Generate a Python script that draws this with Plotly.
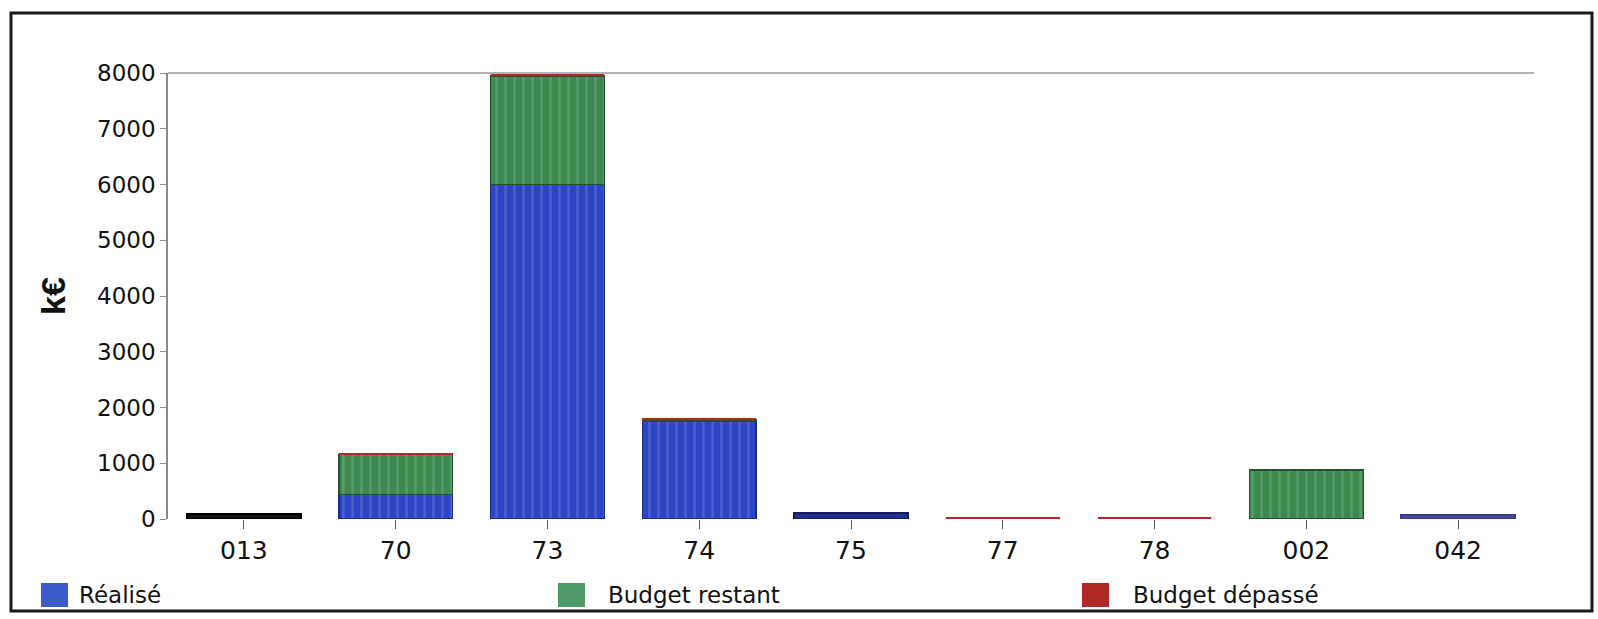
import plotly.graph_objects as go

# Chapitres budgétaires (recettes) en k€
categories = ["013", "70", "73", "74", "75", "77", "78", "002", "042"]
realise = [90, 440, 6000, 1760, 110, 0, 0, 0, 70]
budget_restant = [0, 720, 1950, 25, 0, 0, 0, 880, 0]
budget_depasse = [0, 25, 30, 25, 0, 35, 30, 0, 0]

y_ticks = [0, 1000, 2000, 3000, 4000, 5000, 6000, 7000, 8000]

# Figure geometry (pixels)
W, H = 1598, 619
M_L, M_R, M_T, M_B = 168, 64, 73, 100
PW, PH = W - M_L - M_R, H - M_T - M_B


def px(x):
    return (x - M_L) / PW


def py(y):
    return (H - M_B - y) / PH


BLUE = "#2c45c4"
GREEN = "#3d8a50"
RED = "#b02828"
realise_colors = ["#141414", BLUE, BLUE, BLUE, "#25308c", BLUE, BLUE, BLUE, "#4a4c9c"]
realise_edges = ["#000000", "#1b2a80", "#1b2a80", "#1b2a80", "#161d5e", "#1b2a80",
                 "#1b2a80", "#1b2a80", "#3a3c80"]
realise_patterns = ["", "|", "|", "|", "", "", "", "", ""]


def outline(values, width):
    # no outline on empty segments
    return [width if v > 0 else 0 for v in values]


def stripes(shapes):
    return dict(shape=shapes, size=9, solidity=0.25, fgopacity=0.16, fgcolor="white")


fig = go.Figure()
fig.add_bar(
    x=categories, y=realise, name="Réalisé",
    marker=dict(color=realise_colors,
                line=dict(color=realise_edges, width=outline(realise, 1.5)),
                pattern=stripes(realise_patterns)),
)
fig.add_bar(
    x=categories, y=budget_restant, name="Budget restant",
    marker=dict(color=GREEN,
                line=dict(color="#23502e", width=outline(budget_restant, 1.5)),
                pattern=stripes("|")),
)
fig.add_bar(
    x=categories, y=budget_depasse, name="Budget dépassé",
    marker=dict(color=RED, line=dict(width=0)),
)

font_family = "DejaVu Sans, Liberation Sans, Arial, sans-serif"

fig.update_layout(
    width=W, height=H,
    margin=dict(l=M_L, r=M_R, t=M_T, b=M_B, pad=0),
    barmode="stack",
    bargap=0.25,
    showlegend=False,
    plot_bgcolor="white",
    paper_bgcolor="white",
    font=dict(family=font_family, color="#111111"),
    xaxis=dict(
        type="category",
        showgrid=False, zeroline=False, showline=False,
        ticks="outside", ticklen=9, tickcolor="#555555", tickwidth=1,
        tickfont=dict(size=25, color="#111111"),
    ),
    yaxis=dict(
        range=[0, 8000],
        tickvals=y_ticks,
        showgrid=False, zeroline=False,
        showline=True, linecolor="#8a8a8a", linewidth=1.5,
        ticks="outside", ticklen=6, tickcolor="#8a8a8a",
        tickfont=dict(size=23, color="#111111"),
    ),
)

shapes = [
    # top border of plot area
    dict(type="line", xref="paper", yref="paper", x0=0, x1=1, y0=1, y1=1,
         line=dict(color="#9a9a9a", width=1.5)),
    # outer frame
    dict(type="rect", xref="paper", yref="paper",
         x0=px(11), x1=px(1592), y0=py(13), y1=py(611),
         line=dict(color="#1a1a1a", width=3), fillcolor="rgba(0,0,0,0)", layer="below"),
]

# Legend swatches and labels along the bottom: (label, colour, swatch x, text x)
legend_items = [
    ("Réalisé", "#3d5ccc", 41, 77),
    ("Budget restant", "#4e9a68", 558, 606),
    ("Budget dépassé", RED, 1082, 1131),
]
annotations = []
for label, color, x0, xt in legend_items:
    shapes.append(dict(type="rect", xref="paper", yref="paper",
                       x0=px(x0), x1=px(x0 + 27), y0=py(583), y1=py(607),
                       line=dict(width=0), fillcolor=color))
    annotations.append(dict(xref="paper", yref="paper", x=px(xt), y=py(595),
                            text=label, showarrow=False, xanchor="left", yanchor="middle",
                            font=dict(size=23, color="#111111", family=font_family)))

annotations.append(dict(xref="paper", yref="paper", x=px(53), y=py(296),
                        text="<b>k€</b>", textangle=-90, showarrow=False,
                        xanchor="center", yanchor="middle",
                        font=dict(size=34, color="#111111",
                                  family="Liberation Sans, Arial, sans-serif")))

fig.update_layout(shapes=shapes, annotations=annotations)

fig.write_html("out.html")
